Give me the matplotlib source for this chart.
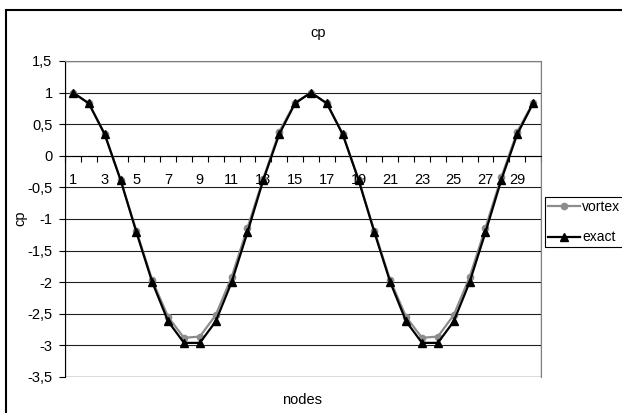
import numpy as np
import matplotlib
matplotlib.use("Agg")
import matplotlib.pyplot as plt
from matplotlib.patches import Rectangle
from matplotlib.ticker import FuncFormatter, FixedLocator

plt.rcParams['font.family'] = ['Liberation Sans', 'DejaVu Sans']

# data
nodes = list(range(1, 31))
vortex = [1.0, 0.83, 0.35, -0.38, -1.19, -1.97, -2.55, -2.88, -2.86, -2.52,
          -1.92, -1.14, -0.36, 0.38, 0.84, 1.0, 0.83, 0.35, -0.38, -1.19,
          -1.97, -2.55, -2.88, -2.86, -2.52, -1.92, -1.14, -0.34, 0.38, 0.84]
exact = [1.0, 0.83, 0.34, -0.38, -1.21, -2.0, -2.62, -2.96, -2.96, -2.62,
         -2.0, -1.21, -0.38, 0.34, 0.83, 1.0, 0.83, 0.34, -0.38, -1.21,
         -2.0, -2.62, -2.96, -2.96, -2.62, -2.0, -1.21, -0.38, 0.34, 0.83]
y_ticks = [1.5, 1, 0.5, 0, -0.5, -1, -1.5, -2, -2.5, -3, -3.5]

FS = 10.5
W, H = 622, 413
fig = plt.figure(figsize=(W / 100, H / 100), dpi=100)

# outer chart border (extends past the right/bottom edge)
fig.patches.append(Rectangle((6 / W, -0.5), 2, 1.5 - 10 / H, transform=fig.transFigure,
                             fill=False, edgecolor='black', lw=1.5))

ax = fig.add_axes([65 / W, 1 - 377 / H, 476 / W, 316 / H])
ax.set_xlim(0.5, 30.5)
ax.set_ylim(-3.5, 1.5)

ax.plot(nodes, vortex, color='#8c8c8c', lw=1.6, marker='o', ms=4.5, label='vortex', zorder=3)
ax.plot(nodes, exact, color='black', lw=1.6, marker='^', ms=6, label='exact', zorder=4)

# gridlines
ax.set_yticks(y_ticks)
ax.yaxis.grid(True, color='#202020', lw=0.8)
ax.set_axisbelow(True)

def comma(v, pos):
    s = ('%g' % v).replace('.', ',')
    return s.replace('\u2212', '-')

ax.yaxis.set_major_formatter(FuncFormatter(comma))
ax.tick_params(axis='y', direction='out', length=4, width=0.8, pad=5, labelsize=FS, colors='black')

# category x axis crossing at zero
ax.spines['bottom'].set_position(('data', 0))
ax.spines['bottom'].set_color('black')
ax.spines['left'].set_color('black')
ax.spines['top'].set_color('#808080')
ax.spines['right'].set_color('#808080')
ax.add_patch(Rectangle((0, 0), 1, 1, transform=ax.transAxes, fill=False,
                       edgecolor='#808080', lw=1.0, zorder=0.5))
ax.set_xticks(nodes[::2])
ax.set_xticklabels([str(n) for n in nodes[::2]])
ax.xaxis.set_minor_locator(FixedLocator(np.arange(0.5, 31, 1)))
ax.tick_params(axis='x', which='major', length=0, pad=12.5, labelsize=FS)
ax.tick_params(axis='x', which='minor', direction='out', length=4, width=0.8)

fig.text(318 / W, 1 - 33 / H, 'cp', ha='center', va='center', fontsize=FS)
fig.text(20 / W, 1 - 218 / H, 'cp', ha='center', va='center', rotation=90, fontsize=FS)
fig.text(302 / W, 1 - 400 / H, 'nodes', ha='center', va='center', fontsize=FS)

# legend sits at the right edge, as in the reference
leg = fig.legend(loc='upper left', bbox_to_anchor=(545 / W, 1 - 197 / H),
                 bbox_transform=fig.transFigure, fontsize=10, frameon=True,
                 fancybox=False, framealpha=1, edgecolor='black',
                 handlelength=2.35, handletextpad=0.12, labelspacing=1.2,
                 borderpad=0.2, borderaxespad=0)
leg.get_frame().set_linewidth(0.8)

fig.savefig('out.png', dpi=100)
